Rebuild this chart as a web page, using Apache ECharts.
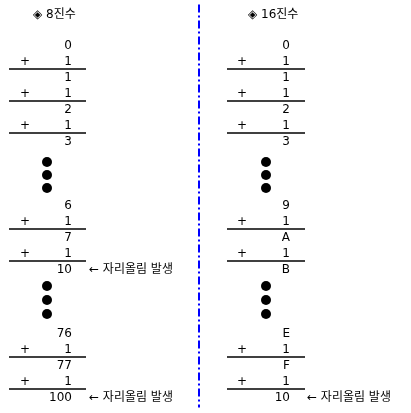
<!DOCTYPE html>
<html><head><meta charset="utf-8">
<script src="https://cdn.jsdelivr.net/npm/echarts@6/dist/echarts.min.js"></script>
<style>html,body{margin:0;padding:0;background:#fff}#c{width:411px;height:413px}</style>
</head><body><div id="c"></div>
<script>
const titles = ['◈ 8진수', '◈ 16진수'];
const sumRows = [0, 2, 4, 6, 10, 12, 14, 18, 20, 22];
const octalValues = ['0', '1', '2', '3', '6', '7', '10', '76', '77', '100'];
const hexValues = ['0', '1', '2', '3', '9', 'A', 'B', 'E', 'F', '10'];
const addRows = [1, 3, 5, 11, 13, 19, 21];
const addend = '1';
const dotRows = [7.25, 8.06, 8.875, 15, 15.875, 16.75];
const carryNote = '← 자리올림 발생';
const octalCarryRows = [14, 22];
const hexCarryRows = [22];

const cols = [
  {num: 72, plus: 25, l0: 9, l1: 86, dot: 47, title: 33, note: 89, vals: octalValues, carry: octalCarryRows},
  {num: 290, plus: 242, l0: 227, l1: 305, dot: 266, title: 248, note: 307, vals: hexValues, carry: hexCarryRows}
];
const font = {fontFamily: 'DejaVu Sans, Noto Sans CJK KR', fontSize: 12, color: '#000', opacity: 1, textBorderWidth: 0};
const series = [];
function textSeries(data, align) {
  return {type: 'scatter', symbolSize: 0, data: data, silent: true, itemStyle: {opacity: 1},
    label: Object.assign({show: true, position: 'inside', align: align, verticalAlign: 'middle',
      formatter: p => p.data[2]}, font)};
}
cols.forEach((c, i) => {
  series.push(textSeries(c.vals.map((v, k) => [c.num, sumRows[k], v]), 'right'));
  series.push(textSeries(addRows.map(r => [c.num, r, addend]), 'right'));
  series.push(textSeries(addRows.map(r => [c.plus, r, '+']), 'center'));
  series.push(textSeries([[c.title, -1.95, titles[i]]], 'left'));
  series.push(textSeries(c.carry.map(r => [c.note, r, carryNote]), 'left'));
  series.push({type: 'scatter', symbol: 'circle', symbolSize: 10, itemStyle: {color: '#000', opacity: 1},
    data: dotRows.map(r => [c.dot, r]), silent: true});
  series.push({type: 'lines', coordinateSystem: 'cartesian2d', silent: true,
    lineStyle: {color: '#000', width: 1.5, opacity: 1},
    data: addRows.map(r => ({coords: [[c.l0, r + 0.44], [c.l1, r + 0.44]]}))});
});
series.push({type: 'lines', coordinateSystem: 'cartesian2d', silent: true,
  lineStyle: {color: '#0000ff', width: 2, opacity: 1, type: [8, 3, 2, 3]},
  data: [{coords: [[198.5, -2.6], [198.5, 22.6]]}]});

const chart = echarts.init(document.getElementById('c'));
chart.setOption({
  animation: false,
  grid: {left: 0, right: 0, top: 0, bottom: 0},
  xAxis: {type: 'value', min: 0, max: 411, show: false},
  yAxis: {type: 'value', min: -2.875, max: 22.9375, inverse: true, show: false},
  series: series
});
</script></body></html>
